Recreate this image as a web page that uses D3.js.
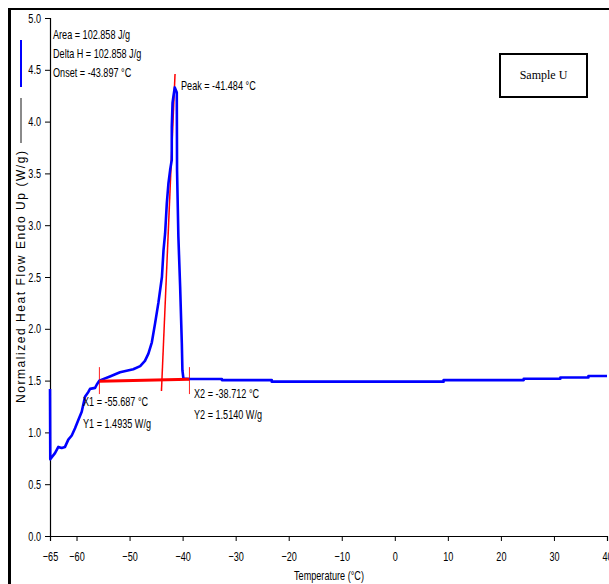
<!DOCTYPE html>
<html>
<head>
<meta charset="utf-8">
<script src="https://cdn.jsdelivr.net/npm/d3@7"></script>
<style>
  html, body { margin: 0; padding: 0; background: #fff; }
  svg { display: block; }
  text { font-family: "Liberation Sans", Arial, sans-serif; }
  text.serif { font-family: "Liberation Serif", "Times New Roman", serif; }
</style>
</head>
<body>
<svg id="chart" width="609" height="584"></svg>
<script>
// DSC thermogram: normalized heat flow vs temperature
const tempC = [-65.0, -64.95, -64.06, -63.43, -62.8, -62.17, -61.55, -60.9, -60.28, -59.66, -59.02,
  -58.4, -57.77, -57.45, -56.5, -56.2, -55.7, -53.7, -51.8, -49.3, -48.0, -47.1, -46.45, -45.8,
  -45.2, -44.57, -43.9, -43.6, -43.3, -42.98, -42.68, -42.36, -42.05, -42.04, -41.9, -41.74,
  -41.48, -41.1, -41.05, -40.8, -40.47, -40.15, -40.04, -39.85, -38.7, -32.6, -32.6, -23.2,
  -23.2, 9.2, 9.2, 24.3, 24.3, 31.2, 31.2, 36.5, 36.5, 40.0];
const heatFlow = [1.42, 0.74, 0.80, 0.86, 0.85, 0.86, 0.93, 0.97, 1.04, 1.12, 1.20,
  1.345, 1.39, 1.42, 1.43, 1.46, 1.50, 1.54, 1.58, 1.61, 1.64, 1.69, 1.76, 1.87,
  2.05, 2.25, 2.50, 2.76, 2.92, 3.21, 3.40, 3.53, 3.63, 3.95, 4.18, 4.24,
  4.33, 4.28, 3.53, 2.89, 2.41, 1.86, 1.60, 1.52, 1.515, 1.515, 1.505, 1.505,
  1.49, 1.49, 1.505, 1.505, 1.518, 1.518, 1.53, 1.53, 1.545, 1.545];

// Integration limits and onset tangent
const baseT = [-55.687, -38.712];
const baseV = [1.4935, 1.5140];
const tangentT = [-43.99, -41.43];
const tangentV = [1.40, 4.46];
const markerV = [1.37, 1.63];

const xTicks = [-65, -60, -50, -40, -30, -20, -10, 0, 10, 20, 30, 40];
const yTicks = [0.0, 0.5, 1.0, 1.5, 2.0, 2.5, 3.0, 3.5, 4.0, 4.5, 5.0];

const resultLines = ["Area = 102.858 J/g", "Delta H = 102.858 J/g", "Onset = -43.897 °C"];
const peakLabel = "Peak = -41.484 °C";
const x1Labels = ["X1 = -55.687 °C", "Y1 = 1.4935 W/g"];
const x2Labels = ["X2 = -38.712 °C", "Y2 = 1.5140 W/g"];
const sampleName = "Sample U";

const NARROW = 0.7;    // horizontal squeeze for condensed lettering
const FS = 13;
const svg = d3.select("#chart");
const x = d3.scaleLinear().domain([-65, 40]).range([50, 607]);
const y = d3.scaleLinear().domain([0, 5]).range([536, 18]);

// condensed text placed at (px, py)
function narrowText(parent, px, py, str, anchor) {
  return parent.append("text")
    .attr("transform", `translate(${px},${py}) scale(${NARROW},1)`)
    .attr("text-anchor", anchor || "start")
    .attr("font-size", FS)
    .attr("fill", "#000")
    .text(str);
}

// outer frame (left and top edges)
svg.append("line").attr("x1", 9.5).attr("x2", 9.5).attr("y1", 8).attr("y2", 584)
  .attr("stroke", "#000").attr("stroke-width", 3);
svg.append("line").attr("x1", 8).attr("x2", 609).attr("y1", 9).attr("y2", 9)
  .attr("stroke", "#000").attr("stroke-width", 2);

// trace legend swatches
svg.append("line").attr("x1", 21).attr("x2", 21).attr("y1", 40).attr("y2", 87)
  .attr("stroke", "#0000ff").attr("stroke-width", 2);
svg.append("line").attr("x1", 21).attr("x2", 21).attr("y1", 98).attr("y2", 143)
  .attr("stroke", "#8a8a8a").attr("stroke-width", 2);

// axes
const xAxis = d3.axisBottom(x).tickValues(xTicks).tickSize(5).tickFormat(d3.format("d"));
const yAxis = d3.axisLeft(y).tickValues(yTicks).tickSize(5).tickFormat(d3.format(".1f"));

const gx = svg.append("g").attr("transform", `translate(0,${y(0)})`).call(xAxis);
const gy = svg.append("g").attr("transform", `translate(${x(-65)},0)`).call(yAxis);
[gx, gy].forEach(g => {
  g.attr("font-family", null).attr("font-size", null);
  g.select(".domain").attr("stroke", "#000").attr("stroke-width", 1.2);
  g.selectAll(".tick line").attr("stroke", "#000");
  g.selectAll(".tick text").attr("font-size", FS).attr("fill", "#000")
    .attr("transform", `scale(${NARROW},1)`);
});
gx.selectAll(".tick text").attr("y", 25).attr("dy", 0);
gy.selectAll(".tick text").attr("x", -9 / NARROW);

// axis titles
narrowText(svg, 329, 580, "Temperature (°C)", "middle");
svg.append("text")
  .attr("transform", "translate(25,277) rotate(-90)")
  .attr("text-anchor", "middle")
  .attr("font-size", 12)
  .attr("textLength", 252).attr("lengthAdjust", "spacing")
  .text("Normalized Heat Flow Endo Up (W/g)");

// onset tangent and integration limit markers
svg.append("line")
  .attr("x1", x(tangentT[0])).attr("y1", y(tangentV[0]))
  .attr("x2", x(tangentT[1])).attr("y2", y(tangentV[1]))
  .attr("stroke", "#ff0000").attr("stroke-width", 1.5);
baseT.forEach(t => {
  svg.append("line")
    .attr("x1", x(t)).attr("x2", x(t))
    .attr("y1", y(markerV[0])).attr("y2", y(markerV[1]))
    .attr("stroke", "#ff2020").attr("stroke-width", 1);
});

// heat flow trace
const line = d3.line().x((d, i) => x(tempC[i])).y((d, i) => y(heatFlow[i]));
svg.append("path").datum(tempC)
  .attr("d", line)
  .attr("fill", "none")
  .attr("stroke", "#0000ff")
  .attr("stroke-width", 2.6)
  .attr("stroke-linejoin", "round");

// integration baseline
svg.append("line")
  .attr("x1", x(baseT[0])).attr("y1", y(baseV[0]))
  .attr("x2", x(baseT[1])).attr("y2", y(baseV[1]))
  .attr("stroke", "#ff0000").attr("stroke-width", 3);

// result annotations
resultLines.forEach((s, i) => narrowText(svg, 53, 39 + i * 19, s));
narrowText(svg, 181, 90, peakLabel);
x1Labels.forEach((s, i) => narrowText(svg, 83, 406 + i * 22, s));
x2Labels.forEach((s, i) => narrowText(svg, 194, 398 + i * 21, s));

// sample tag
svg.append("rect").attr("x", 500).attr("y", 54).attr("width", 87).attr("height", 43)
  .attr("fill", "#fff").attr("stroke", "#000").attr("stroke-width", 2);
svg.append("text").attr("class", "serif")
  .attr("x", 543.5).attr("y", 79).attr("text-anchor", "middle")
  .attr("font-size", 12).text(sampleName);
</script>
</body>
</html>
